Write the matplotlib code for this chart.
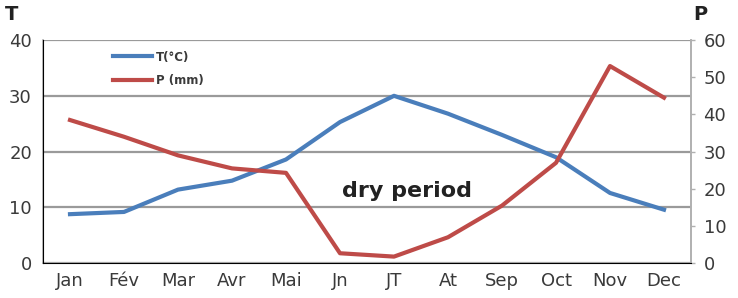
import numpy as np
import matplotlib
matplotlib.use("Agg")
import matplotlib.pyplot as plt
from matplotlib.lines import Line2D

months = ["Jan", "Fév", "Mar", "Avr", "Mai", "Jn", "JT", "At", "Sep", "Oct", "Nov", "Dec"]
temp_c = [8.8, 9.2, 13.2, 14.8, 18.6, 25.3, 30.0, 26.8, 23.0, 19.0, 12.6, 9.6]
precip_mm = [38.5, 34.0, 29.0, 25.5, 24.3, 2.7, 1.8, 7.0, 15.5, 27.0, 53.0, 44.5]
t_ticks = [0, 10, 20, 30, 40]
p_ticks = [0, 10, 20, 30, 40, 50, 60]

blue = "#4a7ebb"
red = "#be4b48"
grid_col = "#9a9a9a"
txt_col = "#3a3a3a"

fig = plt.figure(figsize=(7.38, 2.98), dpi=100)
ax = fig.add_axes([43 / 738, 34.7 / 298, 648 / 738, 223.3 / 298])
x = np.arange(len(months))

ax.plot(x, temp_c, color=blue, lw=3, solid_joinstyle="round", zorder=3)
ax.set_xlim(-0.5, len(months) - 0.5)
ax.set_ylim(0, 40)
ax.set_yticks(t_ticks)
ax.set_xticks(x)
ax.set_xticklabels(months)
ax.yaxis.grid(True, color=grid_col, lw=1.6)
ax.set_axisbelow(True)
ax.tick_params(axis="y", length=0, pad=8, labelsize=13, labelcolor=txt_col)
ax.tick_params(axis="x", length=0, pad=6, labelsize=13, labelcolor=txt_col)
ax.spines["top"].set_visible(False)
for s in ["left", "bottom", "right"]:
    ax.spines[s].set_color("#b0b0b0")
    ax.spines[s].set_linewidth(1.2)

ax2 = ax.twinx()
ax2.plot(x, precip_mm, color=red, lw=3, solid_joinstyle="round", zorder=3)
ax2.set_ylim(0, 60)
ax2.set_yticks(p_ticks)
ax2.tick_params(axis="y", length=3, width=1, color="#b0b0b0", pad=6,
                labelsize=13, labelcolor=txt_col)
ax2.spines["top"].set_visible(False)
ax2.spines["right"].set_color("#b0b0b0")
ax2.spines["right"].set_linewidth(1.2)

ax.text(6.25, 13, "dry period", fontsize=16, fontweight="bold", color="#222222",
        ha="center", va="center", zorder=5)

handles = [Line2D([], [], color=blue, lw=3), Line2D([], [], color=red, lw=3)]
leg = ax.legend(handles, ["T(°C)", "P (mm)"], loc="upper left",
                bbox_to_anchor=(0.092, 1.0), frameon=False, handlelength=3.3,
                handletextpad=0.35, labelspacing=0.85,
                prop={"size": 8.5, "weight": "bold"})
for t in leg.get_texts():
    t.set_color(txt_col)

fig.text(12 / 738, 1 - 14 / 298, "T", fontsize=14, fontweight="bold", ha="center", va="center", color="#222222")
fig.text(700 / 738, 1 - 14 / 298, "P", fontsize=14, fontweight="bold", ha="center", va="center", color="#222222")

fig.savefig("out.png", dpi=100)
